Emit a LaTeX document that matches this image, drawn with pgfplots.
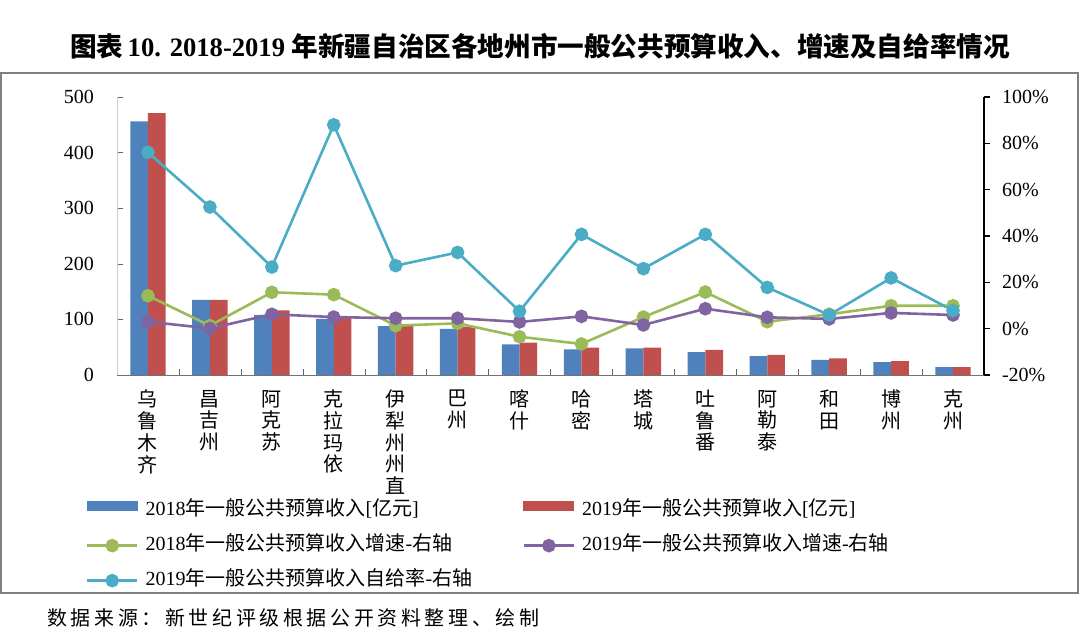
\documentclass[border=0pt]{standalone}
\usepackage{pgfplots}
\pgfplotsset{compat=1.18}
\usepackage{fontspec}
\setmainfont{Liberation Serif}
\newfontfamily\cjk{Noto Sans CJK SC}
\newcommand\C[1]{{\cjk #1}}
\definecolor{cblue}{HTML}{4F81BD}
\definecolor{cred}{HTML}{C0504D}
\definecolor{cgreen}{HTML}{9BBB59}
\definecolor{cpurple}{HTML}{8064A2}
\definecolor{ccyan}{HTML}{4BACC6}

\pgfplotstableread{
x y18 y19 g18 g19 ss
0 456 471 14.2 3.0 76.1
1 135 135 1.3 0.1 52.5
2 108 116 15.7 6.2 26.6
3 101 105 14.7 5.0 88.0
4 88 91 1.3 4.5 27.2
5 83 87 2.3 4.5 32.9
6 55 58 -3.5 2.9 7.5
7 46 49 -6.6 5.3 40.7
8 48 49 5.0 1.6 25.9
9 41 45 15.8 8.6 40.7
10 34 36 3.0 4.9 17.8
11 27 30 6.2 4.2 5.9
12 23 25 9.9 6.8 21.9
13 14 14 9.9 5.9 7.8
}\datatable

\begin{document}
\begin{tikzpicture}
\useasboundingbox (0pt,0pt) rectangle (540pt,320pt);
\draw[color=black!50, line width=1pt] (0.5pt,23.5pt) rectangle (539pt,283.5pt);
\node[font=\bfseries\fontsize{13.3}{16}\selectfont] at (270pt,297pt)
  {\C{图表}\,10. 2018-2019 \C{年新疆自治区各地州市一般公共预算收入、增速及自给率情况}};
\node[anchor=west, inner sep=0pt, font=\cjk\fontsize{10}{12}\selectfont\addfontfeature{LetterSpace=18}] at (23.5pt,11pt)
  {数据来源：新世纪评级根据公开资料整理、绘制};

\begin{axis}[at={(58.5pt,132.5pt)}, anchor=south west, scale only axis,
  width=433.5pt, height=139pt,
  ybar=0pt, bar width=8.85pt,
  xmin=-0.5, xmax=13.5, ymin=0, ymax=500,
  axis y line*=left, axis x line*=bottom,
  axis line style={-},
  x axis line style={draw=black!55},
  y axis line style={draw=black!20},
  tick align=inside,
  ytick={0,100,...,500},
  major tick length=3pt, minor tick length=3pt,
  ytick style={draw=black!60},
  xtick={0,...,13},
  major x tick style={draw=none},
  minor xtick={0.5,1.5,...,12.5},
  minor x tick style={draw=black!60},
  xticklabels={{乌\\鲁\\木\\齐},{昌\\吉\\州},{阿\\克\\苏},{克\\拉\\玛\\依},{伊\\犁\\州\\州\\直},{巴\\州},{喀\\什},{哈\\密},{塔\\城},{吐\\鲁\\番},{阿\\勒\\泰},{和\\田},{博\\州},{克\\州}},
  xticklabel style={font=\cjk\fontsize{10}{10.85}\selectfont, align=center, anchor=north, yshift=-4pt},
  yticklabel style={font=\fontsize{10}{12}\selectfont, xshift=-8pt},
  /pgf/number format/assume math mode=true,
]
\addplot[fill=cblue, draw=none] table[x=x,y=y18] {\datatable};
\addplot[fill=cred, draw=none] table[x=x,y=y19] {\datatable};
\end{axis}

\begin{axis}[at={(58.5pt,132.5pt)}, anchor=south west, scale only axis,
  width=433.5pt, height=139pt,
  xmin=-0.5, xmax=13.5, ymin=-20, ymax=100,
  hide x axis,
  axis y line*=right,
  axis line style={-},
  y axis line style={draw=black, line width=0.8pt},
  tick align=outside, major tick length=3pt,
  ytick style={draw=black, line width=0.8pt},
  ytick={-20,0,...,100},
  yticklabel={\pgfmathprintnumber[assume math mode=true]{\tick}\%},
  yticklabel style={font=\fontsize{10}{12}\selectfont, xshift=2.5pt},
  legend image code/.code={\draw[mark repeat=2,mark phase=2,#1] plot coordinates {(0pt,0pt) (12.5pt,0pt) (25pt,0pt)};},
  legend columns=2,
  legend cell align=left,
  legend style={at={(axis description cs:-0.0358,-0.452)}, anchor=north west,
    draw=none, fill=none, inner sep=0pt, outer sep=0pt,
    font=\fontsize{10}{12}\selectfont,
    row sep=7.5pt, column sep=0pt,
    nodes={inner sep=0pt, text height=7.5pt, text depth=2.5pt},
    /tikz/every odd column/.append style={column sep=3.5pt}},
]
\addlegendimage{legend image code/.code={\fill[cblue] (0pt,0pt) rectangle (25pt,4.5pt);}}
\addlegendentry{\makebox[188.5pt][l]{2018\C{年一般公共预算收入}[\C{亿元}]}}
\addlegendimage{legend image code/.code={\fill[cred] (0pt,0pt) rectangle (25pt,4.5pt);}}
\addlegendentry{2019\C{年一般公共预算收入}[\C{亿元}]}
\addplot[cgreen, line width=1.3pt, mark=*, mark size=2.75pt, mark options={solid, fill=cgreen, draw=cgreen}] table[x=x,y=g18] {\datatable};
\addlegendentry{\makebox[188.5pt][l]{2018\C{年一般公共预算收入增速}-\C{右轴}}}
\addplot[cpurple, line width=1.3pt, mark=*, mark size=2.75pt, mark options={solid, fill=cpurple, draw=cpurple}] table[x=x,y=g19] {\datatable};
\addlegendentry{2019\C{年一般公共预算收入增速}-\C{右轴}}
\addplot[ccyan, line width=1.3pt, mark=*, mark size=2.75pt, mark options={solid, fill=ccyan, draw=ccyan}] table[x=x,y=ss] {\datatable};
\addlegendentry{\makebox[188.5pt][l]{2019\C{年一般公共预算收入自给率}-\C{右轴}}}
\end{axis}
\end{tikzpicture}
\end{document}
